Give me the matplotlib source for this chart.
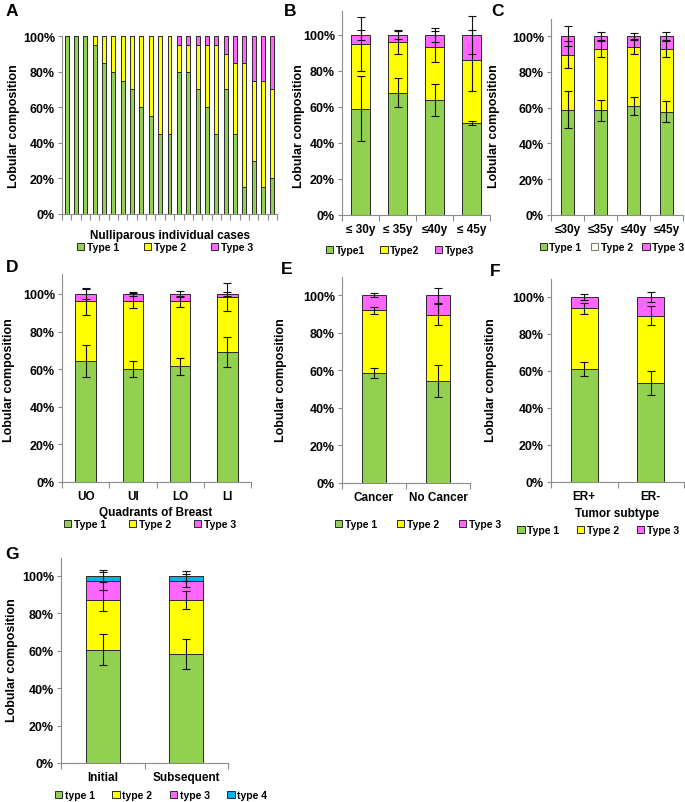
import numpy as np
import matplotlib
matplotlib.use("Agg")
import matplotlib.pyplot as plt
from matplotlib.patches import Patch
from matplotlib.ticker import PercentFormatter

plt.rcParams['font.family'] = ['Liberation Sans', 'DejaVu Sans']
plt.rcParams['font.weight'] = 'bold'

W, H = 685, 803
GREEN, YELLOW, PINK, BLUE = '#92D050', '#FFFF00', '#FF66FF', '#00B0F0'
EDGE = '#2a2a2a'

# ---------------- data ----------------
# Panel A: nulliparous individual cases (percent)
a_type1 = [100, 100, 100, 95, 85, 80, 75, 70, 60, 55, 45, 45, 80, 80, 70, 60, 45, 70, 45, 15, 30, 15, 20]
a_type2 = [0, 0, 0, 5, 15, 20, 25, 30, 40, 45, 55, 55, 15, 15, 25, 35, 50, 20, 40, 70, 45, 60, 50]
a_type3 = [0, 0, 0, 0, 0, 0, 0, 0, 0, 0, 0, 0, 5, 5, 5, 5, 5, 10, 15, 15, 25, 25, 30]

# Panel B
b_cats = ['≤ 30y', '≤ 35y', '≤40y', '≤ 45y']
b_type1 = [59, 68, 64, 51]
b_type2 = [36, 28, 29.5, 35]
b_type3 = [5, 4, 6.5, 14]
b_err1 = [18, 8, 9, 1]
b_err2 = [15, 6.5, 8.5, 17]
b_err3 = [3, 2, 4, 10.4]

# Panel C
c_cats = ['≤30y', '≤35y', '≤40y', '≤45y']
c_type1 = [58.7, 58.5, 60.8, 57.8]
c_type2 = [30.9, 34.2, 32.9, 34.9]
c_type3 = [10.4, 7.3, 6.3, 7.3]
c_err1 = [10.3, 6, 5, 5.8]
c_err2 = [7.5, 4.5, 4, 4.7]
c_err3 = [5.7, 2, 1.7, 2.4]

# Panel D
d_cats = ['UO', 'UI', 'LO', 'LI']
d_type1 = [64.5, 60.1, 61.5, 69]
d_type2 = [31.5, 36.3, 34.6, 29.2]
d_type3 = [4, 3.6, 3.9, 1.8]
d_err1 = [8.6, 4.4, 4.5, 8]
d_err2 = [7, 4, 3, 7.4]
d_err3 = [2.5, 1.2, 1.8, 0.9]

# Panel E
e_cats = ['Cancer', 'No Cancer']
e_type1 = [58.3, 54.1]
e_type2 = [33.7, 35.3]
e_type3 = [8, 10.6]
e_err1 = [2.7, 8.5]
e_err2 = [1.9, 5.6]
e_err3 = [1.3, 4]

# Panel F
f_cats = ['ER+', 'ER-']
f_type1 = [61.1, 53.4]
f_type2 = [32.8, 36.5]
f_type3 = [6.1, 10.1]
f_err1 = [3.6, 6.4]
f_err2 = [3, 5]
f_err3 = [1.6, 2.8]

# Panel G
g_cats = ['Initial', 'Subsequent']
g_type1 = [60.6, 58.3]
g_type2 = [26.4, 28.9]
g_type3 = [10.2, 10.2]
g_type4 = [2.8, 2.6]
g_err1 = [8.3, 7.8]
g_err2 = [5.5, 4.9]
g_err3 = [4.7, 3.5]
g_err4 = [3.4, 2.8]

# ---------------- helpers ----------------
fig = plt.figure(figsize=(W / 100, H / 100), dpi=100)


def make_ax(l, r, t, b):
    return fig.add_axes([l / W, 1 - b / H, (r - l) / W, (b - t) / H])


def style(ax, n, ymax, cats=None):
    for s in ['top', 'right']:
        ax.spines[s].set_visible(False)
    for s in ['left', 'bottom']:
        ax.spines[s].set_color('#8c8c8c')
        ax.spines[s].set_linewidth(0.8)
    ax.set_ylim(0, ymax)
    ax.set_xlim(-0.5, n - 0.5)
    ax.set_yticks(np.arange(0, 1.01, 0.2))
    ax.yaxis.set_major_formatter(PercentFormatter(1.0, decimals=0))
    ax.tick_params(axis='y', length=3, width=0.8, color='#8c8c8c', labelsize=9, pad=2)
    ax.set_xticks(np.arange(n))
    ax.set_xticklabels(cats if cats is not None else [''] * n)
    ax.tick_params(axis='x', length=0, labelsize=8.5, pad=6)
    ax.set_xticks(np.arange(-0.5, n, 1.0), minor=True)
    ax.tick_params(axis='x', which='minor', length=4, width=0.8, color='#8c8c8c')
    for lab in ax.get_yticklabels() + ax.get_xticklabels():
        lab.set_fontweight('bold')


def stacked(ax, series, colors, errs=None, width=0.42):
    n = len(series[0])
    x = np.arange(n)
    bottom = np.zeros(n)
    tops = []
    for vals, col in zip(series, colors):
        v = np.array(vals) / 100.0
        ax.bar(x, v, width, bottom=bottom, color=col, edgecolor=EDGE, linewidth=0.7, zorder=2)
        bottom = bottom + v
        tops.append(bottom.copy())
    if errs is not None:
        for top, e in zip(tops, errs):
            ax.errorbar(x, top, yerr=np.array(e) / 100.0, fmt='none', ecolor='#111111',
                        elinewidth=0.8, capsize=3, capthick=0.8, zorder=5)


def ylabel(ax, xpix, ypix):
    ax.set_ylabel('Lobular composition', fontsize=9, fontweight='bold')
    ax.yaxis.set_label_coords(xpix / W, 1 - ypix / H, transform=fig.transFigure)


def letter(ch, xpix, ypix):
    fig.text(xpix / W, 1 - ypix / H, ch, fontsize=12.5, fontweight='bold', ha='center', va='center')


def legend(ax, labels, colors, cx, cy, spacing, edgecolors=None):
    if edgecolors is None:
        edgecolors = [EDGE] * len(colors)
    handles = [Patch(facecolor=c, edgecolor=ec, linewidth=0.7) for c, ec in zip(colors, edgecolors)]
    ax.legend(handles, labels, loc='center', bbox_to_anchor=(cx / W, 1 - cy / H),
              bbox_transform=fig.transFigure, ncol=len(labels), frameon=False,
              prop={'size': 7.5, 'weight': 'bold'}, handlelength=0.7, handleheight=0.7,
              handletextpad=0.25, columnspacing=spacing, borderpad=0, borderaxespad=0)


# ---------------- Panel A ----------------
axA = make_ax(62, 277, 37, 215)
stacked(axA, [a_type1, a_type2, a_type3], [GREEN, YELLOW, PINK], width=0.42)
style(axA, len(a_type1), 1.0)
axA.set_xlabel('Nulliparous individual cases', fontsize=8.5, fontweight='bold')
axA.xaxis.set_label_coords(170 / W, 1 - 230 / H, transform=fig.transFigure)
ylabel(axA, 20, 126)
letter('A', 12, 12)
legend(axA, ['Type 1', 'Type 2', 'Type 3'], [GREEN, YELLOW, PINK], 165, 248, 2.4)

# ---------------- Panel B ----------------
axB = make_ax(342, 490, 12, 216)
stacked(axB, [b_type1, b_type2, b_type3], [GREEN, YELLOW, PINK],
        errs=[b_err1, b_err2, b_err3], width=0.51)
style(axB, 4, 1.133, b_cats)
ylabel(axB, 305, 126)
letter('B', 290, 12)
legend(axB, ['Type1', 'Type2', 'Type3'], [GREEN, YELLOW, PINK], 400, 251, 1.5)

# ---------------- Panel C ----------------
axC = make_ax(551, 683, 20, 216)
stacked(axC, [c_type1, c_type2, c_type3], [GREEN, YELLOW, PINK],
        errs=[c_err1, c_err2, c_err3], width=0.4)
style(axC, 4, 1.095, c_cats)
ylabel(axC, 500, 126)
letter('C', 498, 12)
legend(axC, ['Type 1', 'Type 2', 'Type 3'], [GREEN, '#FFFFE8', PINK], 612, 248, 0.9,
       edgecolors=[EDGE, '#777777', EDGE])

# ---------------- Panel D ----------------
axD = make_ax(62, 251, 275, 483)
stacked(axD, [d_type1, d_type2, d_type3], [GREEN, YELLOW, PINK],
        errs=[d_err1, d_err2, d_err3], width=0.43)
style(axD, 4, 1.106, d_cats)
axD.set_xlabel('Quadrants of Breast', fontsize=8.5, fontweight='bold')
axD.xaxis.set_label_coords(156 / W, 1 - 507 / H, transform=fig.transFigure)
ylabel(axD, 15, 380)
letter('D', 12, 268)
legend(axD, ['Type 1', 'Type 2', 'Type 3'], [GREEN, YELLOW, PINK], 150, 525, 2.2)

# ---------------- Panel E ----------------
axE = make_ax(342, 470, 278, 484)
stacked(axE, [e_type1, e_type2, e_type3], [GREEN, YELLOW, PINK],
        errs=[e_err1, e_err2, e_err3], width=0.39)
style(axE, 2, 1.096, e_cats)
ylabel(axE, 287, 380)
letter('E', 287, 269)
legend(axE, ['Type 1', 'Type 2', 'Type 3'], [GREEN, YELLOW, PINK], 418, 525, 1.9)

# ---------------- Panel F ----------------
axF = make_ax(551, 684, 280, 483)
stacked(axF, [f_type1, f_type2, f_type3], [GREEN, YELLOW, PINK],
        errs=[f_err1, f_err2, f_err3], width=0.4)
style(axF, 2, 1.097, f_cats)
axF.set_xlabel('Tumor subtype', fontsize=8.5, fontweight='bold')
axF.xaxis.set_label_coords(617 / W, 1 - 508 / H, transform=fig.transFigure)
ylabel(axF, 497, 380)
letter('F', 495, 271)
legend(axF, ['Type 1', 'Type 2', 'Type 3'], [GREEN, YELLOW, PINK], 598, 531, 1.7)

# ---------------- Panel G ----------------
axG = make_ax(61, 228, 559, 764)
stacked(axG, [g_type1, g_type2, g_type3, g_type4], [GREEN, YELLOW, PINK, BLUE],
        errs=[g_err1, g_err2, g_err3, g_err4], width=0.41)
style(axG, 2, 1.096, g_cats)
ylabel(axG, 18, 660)
letter('G', 12, 555)
legend(axG, ['type 1', 'type 2', 'type 3', 'type 4'], [GREEN, YELLOW, PINK, BLUE], 161, 796, 1.7)

fig.savefig('out.png', dpi=100)
